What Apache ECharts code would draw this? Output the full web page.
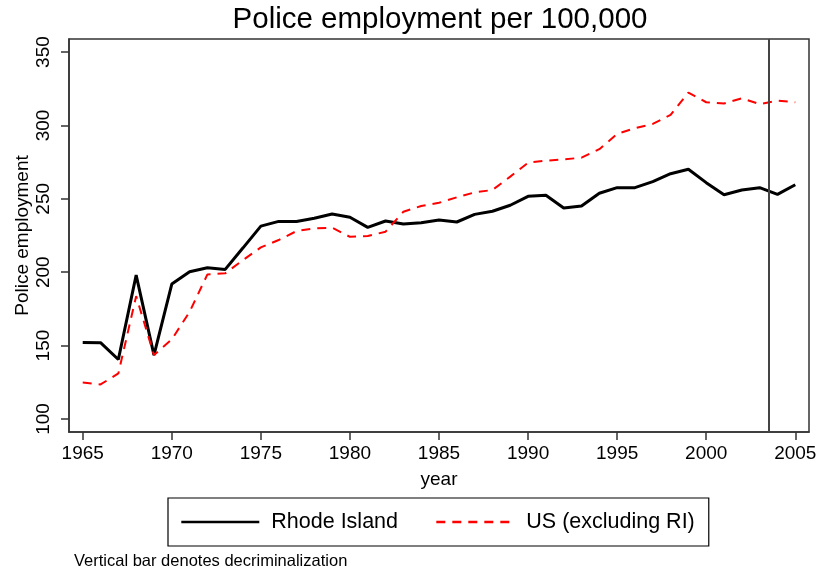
<!DOCTYPE html>
<html>
<head>
<meta charset="utf-8">
<script src="https://cdn.jsdelivr.net/npm/echarts@6/dist/echarts.min.js"></script>
<style>html,body{margin:0;padding:0;background:#fff}#c{width:821px;height:573px}</style>
</head>
<body>
<div id="c"></div>
<script>
const years = [1965,1966,1967,1968,1969,1970,1971,1972,1973,1974,1975,1976,1977,1978,1979,1980,1981,1982,1983,1984,1985,1986,1987,1988,1989,1990,1991,1992,1993,1994,1995,1996,1997,1998,1999,2000,2001,2002,2003,2004,2005];
const rhodeIsland = [152.1,152,140.5,198,143.5,191.9,200.3,203,201.9,216.6,231.4,234.6,234.6,236.7,239.6,237.4,230.5,234.9,232.8,233.7,235.5,234.2,239.4,241.5,245.6,251.7,252.4,243.7,245.1,253.8,257.6,257.6,261.7,267.1,270.1,261,252.8,256,257.6,253,259.6];
const usExclRI = [124.8,123.5,131,183.7,143.5,154.2,173,198.5,199.2,208.3,216.9,221.9,228,229.9,230.3,224.1,224.6,227.6,241.2,245.1,247.3,251,254.4,256,265.1,274.6,276,276.9,278,283.8,294.2,298.1,301,307.2,322.4,315.8,314.9,318.5,314.5,316.9,315.8];
const xTicks = [1965,1970,1975,1980,1985,1990,1995,2000,2005];
const yTicks = [100,150,200,250,300,350];
const decrimYear = 2003.5;
const seriesNames = ['Rhode Island','US (excluding RI)'];

const font = 'Liberation Sans, Arial, Helvetica, sans-serif';
const chart = echarts.init(document.getElementById('c'), null, {renderer:'canvas'});
chart.setOption({
  animation:false,
  backgroundColor:'#fff',
  textStyle:{fontFamily:font},
  title:[
    {text:'Police employment per 100,000', left:440, top:5, textAlign:'center', padding:0,
     textStyle:{fontSize:29.5, fontWeight:'normal', color:'#000', fontFamily:font}},
    {text:'Vertical bar denotes decriminalization', left:74, top:553, padding:0,
     textStyle:{fontSize:16.5, fontWeight:'normal', color:'#000', fontFamily:font}}
  ],
  grid:{left:69, right:12, top:39, bottom:141, show:true, borderColor:'#333', borderWidth:1.5,
        containLabel:false, outerBoundsMode:'none'},
  legend:{
    left:168, top:498,
    orient:'horizontal',
    data:seriesNames,
    borderColor:'#000', borderWidth:1.2,
    padding:[13,14,13,12],
    itemWidth:78, itemHeight:14, itemGap:37,
    itemStyle:{opacity:0},
    lineStyle:{width:2.6},
    textStyle:{fontSize:21.5, color:'#000', fontFamily:font, padding:[0,0,0,7]}
  },
  xAxis:{
    type:'value', min:1964.23, max:2005.77,
    name:'year', nameLocation:'middle', nameGap:38,
    nameTextStyle:{fontSize:19, color:'#000', fontFamily:font},
    axisLine:{show:true, lineStyle:{color:'#333', width:1.5}},
    axisTick:{show:true, length:8, customValues:xTicks, lineStyle:{color:'#333', width:1.5}},
    axisLabel:{customValues:xTicks, fontSize:19, color:'#000', margin:12, fontFamily:font,
      formatter:v=>String(v)},
    splitLine:{show:false}
  },
  yAxis:{
    type:'value', min:91.1, max:358.9,
    name:'Police employment', nameLocation:'middle', nameGap:37, nameMoveOverlap:false,
    nameTextStyle:{fontSize:19, color:'#000', fontFamily:font},
    axisLine:{show:true, lineStyle:{color:'#333', width:1.5}},
    axisTick:{show:true, length:8, customValues:yTicks, lineStyle:{color:'#333', width:1.5}},
    axisLabel:{customValues:yTicks, rotate:90, fontSize:19, color:'#000', margin:16, fontFamily:font,
      formatter:v=>String(v)},
    splitLine:{show:false}
  },
  series:[
    {name:seriesNames[0], type:'line', symbol:'none',
     data:years.map((y,i)=>[y, rhodeIsland[i]]),
     lineStyle:{color:'#000', width:3}, itemStyle:{color:'#000'},
     markLine:{silent:true, symbol:'none', label:{show:false},
       lineStyle:{color:'#444', width:2, type:'solid'},
       data:[{xAxis:decrimYear}]}
    },
    {name:seriesNames[1], type:'line', symbol:'none',
     data:years.map((y,i)=>[y, usExclRI[i]]),
     lineStyle:{color:'#ff0000', width:2, type:[9,7]}, itemStyle:{color:'#ff0000'}}
  ]
});
</script>
</body>
</html>
